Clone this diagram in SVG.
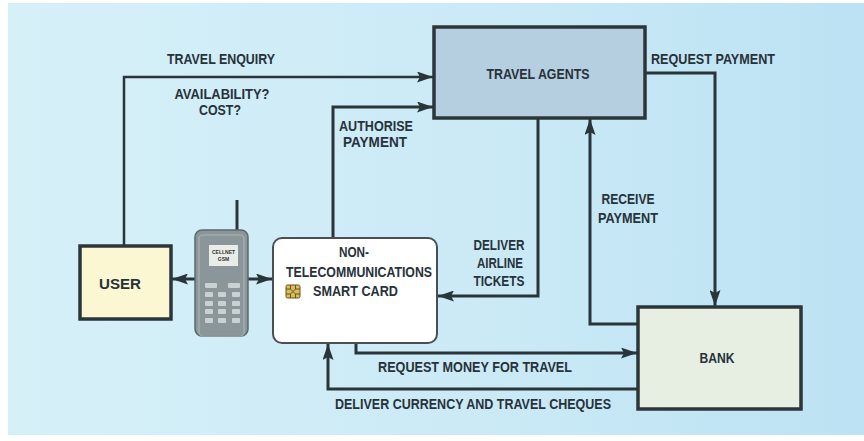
<svg xmlns="http://www.w3.org/2000/svg" width="864" height="441" viewBox="0 0 864 441">
  <defs>
    <linearGradient id="bg" x1="0" y1="0" x2="1" y2="0">
      <stop offset="0" stop-color="#d6f0f8"/>
      <stop offset="0.55" stop-color="#cbeaf6"/>
      <stop offset="1" stop-color="#bce2f3"/>
    </linearGradient>
    <marker id="arrow" viewBox="0 0 16 11" refX="16" refY="5.5" markerWidth="16" markerHeight="11" markerUnits="userSpaceOnUse" orient="auto">
      <path d="M0,0 L16,5.5 L0,11 L3,5.5 Z" fill="#28353b"/>
    </marker>
  </defs>
  <style>
    .lbl { font-family: "Liberation Sans", Arial, sans-serif; font-weight: bold; font-size: 15px; fill: #27323a; }
    .box { stroke: #2b363b; stroke-width: 3.5; }
    .wire { fill: none; stroke: #28353b; stroke-width: 3; stroke-linejoin: miter; }
    .thin { stroke-width: 2.5; }
    .key { fill: #c9d1d3; }
  </style>

  <!-- page background -->
  <rect x="0" y="0" width="864" height="441" fill="#ffffff"/>
  <rect x="8" y="3" width="856" height="432" fill="url(#bg)"/>

  <!-- connectors -->
  <g id="connectors">
    <!-- travel enquiry -->
    <path class="wire thin" d="M124,246 V77 H433" marker-end="url(#arrow)"/>
    <!-- authorise payment -->
    <path class="wire" d="M333,238 V107 H433" marker-end="url(#arrow)"/>
    <!-- request payment -->
    <path class="wire" d="M645,73 H715 V306" marker-end="url(#arrow)"/>
    <!-- deliver airline tickets -->
    <path class="wire" d="M538,119 V296 H438" marker-end="url(#arrow)"/>
    <!-- receive payment -->
    <path class="wire" d="M637,324 H590 V119" marker-end="url(#arrow)"/>
    <!-- request money for travel -->
    <path class="wire" d="M356,343 V353 H637" marker-end="url(#arrow)"/>
    <!-- deliver currency and travel cheques -->
    <path class="wire" d="M637,389 H328 V344" marker-end="url(#arrow)"/>
    <!-- phone links -->
    <path class="wire" d="M196,279 H172" marker-end="url(#arrow)"/>
    <path class="wire" d="M247,279 H272" marker-end="url(#arrow)"/>
  </g>

  <!-- connector labels -->
  <g id="labels">
    <text class="lbl" x="221" y="64" text-anchor="middle" textLength="108" lengthAdjust="spacingAndGlyphs">TRAVEL ENQUIRY</text>
    <text class="lbl" x="222" y="99" text-anchor="middle" font-size="14" textLength="95" lengthAdjust="spacingAndGlyphs">AVAILABILITY?</text>
    <text class="lbl" x="220" y="115" text-anchor="middle" font-size="14" textLength="42" lengthAdjust="spacingAndGlyphs">COST?</text>
    <text class="lbl" x="376" y="131" text-anchor="middle" textLength="74" lengthAdjust="spacingAndGlyphs">AUTHORISE</text>
    <text class="lbl" x="375" y="147" text-anchor="middle" textLength="64" lengthAdjust="spacingAndGlyphs">PAYMENT</text>
    <text class="lbl" x="651" y="64" textLength="124" lengthAdjust="spacingAndGlyphs">REQUEST PAYMENT</text>
    <text class="lbl" x="499" y="250" text-anchor="middle" textLength="51" lengthAdjust="spacingAndGlyphs">DELIVER</text>
    <text class="lbl" x="500" y="268" text-anchor="middle" textLength="46" lengthAdjust="spacingAndGlyphs">AIRLINE</text>
    <text class="lbl" x="499" y="286" text-anchor="middle" textLength="51" lengthAdjust="spacingAndGlyphs">TICKETS</text>
    <text class="lbl" x="628" y="204" text-anchor="middle" textLength="53" lengthAdjust="spacingAndGlyphs">RECEIVE</text>
    <text class="lbl" x="628" y="223" text-anchor="middle" textLength="60" lengthAdjust="spacingAndGlyphs">PAYMENT</text>
    <text class="lbl" x="475" y="372" text-anchor="middle" textLength="194" lengthAdjust="spacingAndGlyphs">REQUEST MONEY FOR TRAVEL</text>
    <text class="lbl" x="473" y="409" text-anchor="middle" textLength="276" lengthAdjust="spacingAndGlyphs">DELIVER CURRENCY AND TRAVEL CHEQUES</text>
  </g>

  <!-- travel agents -->
  <g id="travel-agents">
    <rect class="box" x="434" y="27" width="211" height="91" fill="#b6cfe0"/>
    <text class="lbl" x="538" y="79" text-anchor="middle" textLength="103" lengthAdjust="spacingAndGlyphs">TRAVEL AGENTS</text>
  </g>

  <!-- user -->
  <g id="user">
    <rect class="box" x="80" y="246" width="91" height="73" fill="#fcf7d3"/>
    <text class="lbl" x="120" y="289" text-anchor="middle" font-size="16" textLength="42" lengthAdjust="spacingAndGlyphs">USER</text>
  </g>

  <!-- mobile phone -->
  <g id="phone">
    <line x1="237" y1="200" x2="237" y2="232" stroke="#2b363b" stroke-width="3"/>
    <rect x="195" y="230" width="53" height="106" rx="7" fill="#8b969a" stroke="#5d686c" stroke-width="1.5"/>
    <rect x="199" y="235" width="45" height="101" rx="4" fill="none" stroke="#aab3b6" stroke-width="1.2"/>
    <rect x="209" y="245" width="29" height="21" fill="#e9ede9"/>
    <text x="223.5" y="254" text-anchor="middle" font-family="Liberation Sans, Arial, sans-serif" font-weight="bold" font-size="5" fill="#333">CELLNET</text>
    <text x="223.5" y="261" text-anchor="middle" font-family="Liberation Sans, Arial, sans-serif" font-weight="bold" font-size="5" fill="#333">GSM</text>
    <rect class="key" x="205" y="283" width="12" height="5" rx="1"/>
    <rect class="key" x="228" y="283" width="12" height="5" rx="1"/>
    <rect class="key" x="205" y="292" width="8" height="5" rx="1"/>
    <rect class="key" x="218" y="292" width="8" height="5" rx="1"/>
    <rect class="key" x="232" y="292" width="8" height="5" rx="1"/>
    <rect class="key" x="205" y="301" width="8" height="5" rx="1"/>
    <rect class="key" x="218" y="301" width="8" height="5" rx="1"/>
    <rect class="key" x="232" y="301" width="8" height="5" rx="1"/>
    <rect class="key" x="205" y="309" width="8" height="5" rx="1"/>
    <rect class="key" x="218" y="309" width="8" height="5" rx="1"/>
    <rect class="key" x="232" y="309" width="8" height="5" rx="1"/>
    <rect class="key" x="205" y="318" width="8" height="5" rx="1"/>
    <rect class="key" x="218" y="318" width="8" height="5" rx="1"/>
    <rect class="key" x="232" y="318" width="8" height="5" rx="1"/>
  </g>

  <!-- smart card -->
  <g id="smart-card">
    <rect x="273" y="238" width="164" height="105" rx="9" fill="#ffffff" stroke="#4a4f52" stroke-width="2"/>
    <text class="lbl" x="354" y="257" text-anchor="middle" textLength="30" lengthAdjust="spacingAndGlyphs">NON-</text>
    <text class="lbl" x="359" y="277" text-anchor="middle" textLength="146" lengthAdjust="spacingAndGlyphs">TELECOMMUNICATIONS</text>
    <text class="lbl" x="313" y="296" textLength="85" lengthAdjust="spacingAndGlyphs">SMART CARD</text>
    <!-- contact chip -->
    <rect x="286" y="285" width="14" height="13" rx="1.5" fill="#d9bb62" stroke="#6b5518" stroke-width="1"/>
    <path d="M290.5,285 V289 L293,291.5 L295.5,289 V285 M286,289 H290.5 M300,289 H295.5 M286,294 H290.5 L293,291.5 L295.5,294 H300 M290.5,294 V298 M295.5,294 V298" fill="none" stroke="#6b5518" stroke-width="1"/>
  </g>

  <!-- bank -->
  <g id="bank">
    <rect class="box" x="638" y="307" width="163" height="102" fill="#e6efe2"/>
    <text class="lbl" x="717" y="363" text-anchor="middle" textLength="35" lengthAdjust="spacingAndGlyphs">BANK</text>
  </g>
</svg>
